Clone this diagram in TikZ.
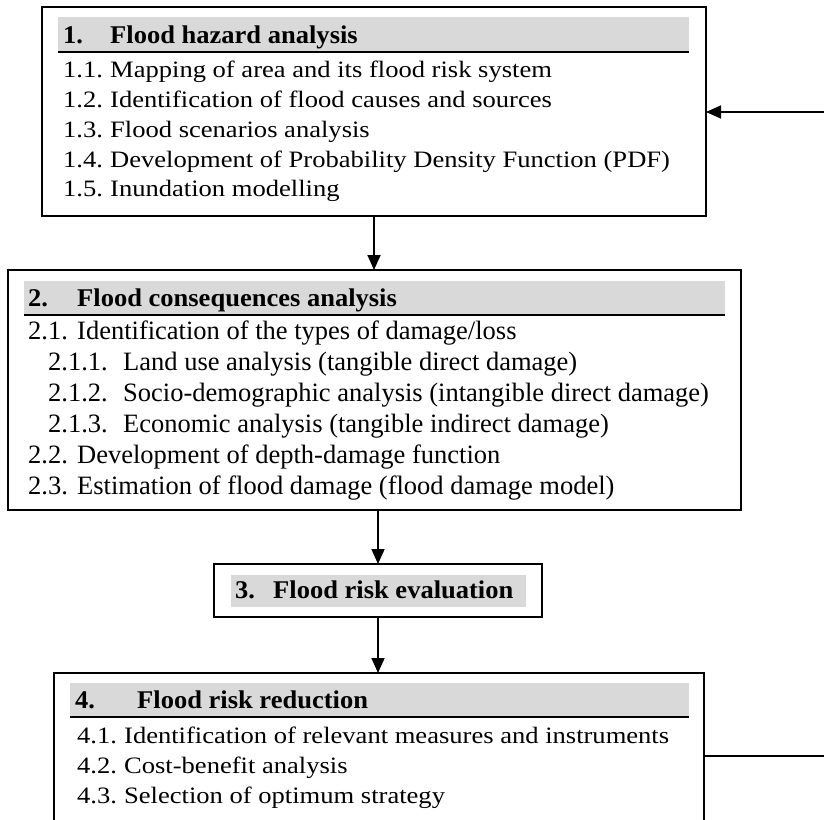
\documentclass[tikz,border=0pt]{standalone}
\usepackage{fontspec}
\setmainfont{Liberation Serif}
\newfontfamily\fA[FakeStretch=1.13]{Liberation Serif}
\newfontfamily\fH[FakeStretch=1.04]{Liberation Serif}
\usetikzlibrary{arrows.meta}
\definecolor{hdgray}{HTML}{D9D9D9}
\tikzset{
  box/.style={draw=black, line width=1.7pt, fill=none, inner sep=0pt, outer sep=0pt, anchor=north west},
  hdbar/.style={fill=hdgray, draw=none, inner sep=0pt, outer sep=0pt, anchor=north west},
  hdrule/.style={line width=1.9pt},
  txtA/.style={anchor=base west, inner sep=0pt, font=\fA\fontsize{23.5}{28}\selectfont},
  txtB/.style={anchor=base west, inner sep=0pt, font=\fontsize{26.5}{30}\selectfont},
  hd/.style={anchor=base west, inner sep=0pt, font=\fH\bfseries\fontsize{25.5}{30}\selectfont},
  arr/.style={line width=1.7pt, -{Triangle[length=15pt,width=13pt]}},
  conn/.style={line width=1.7pt}
}
\begin{document}
\begin{tikzpicture}[x=1pt,y=-1pt]
\clip (0,0) rectangle (824,819);
\fill[white] (0,0) rectangle (824,819);

% Box 1
\node[box, minimum width=664pt, minimum height=209pt] (b1) at (42,7) {};
\node[hdbar, minimum width=631pt, minimum height=35pt] (h1) at (58,17) {};
\draw[hdrule] (h1.south west) -- (h1.south east);
\node[hd] (t1) at (63,43) {\makebox[47pt][l]{1.}Flood hazard analysis};
\node[txtA] (t11) at (63,77) {\makebox[47pt][l]{1.1.}Mapping of area and its flood risk system};
\node[txtA] (t12) at (63,107) {\makebox[47pt][l]{1.2.}Identification of flood causes and sources};
\node[txtA] (t13) at (63,137) {\makebox[47pt][l]{1.3.}Flood scenarios analysis};
\node[txtA] (t14) at (63,167) {\makebox[47pt][l]{1.4.}Development of Probability Density Function (PDF)};
\node[txtA] (t15) at (63,196) {\makebox[47pt][l]{1.5.}Inundation modelling};

% Box 2
\node[box, minimum width=733pt, minimum height=240pt] (b2) at (8,270) {};
\node[hdbar, minimum width=701pt, minimum height=34pt] (h2) at (24,281) {};
\draw[hdrule] (h2.south west) -- (h2.south east);
\node[hd] (t2) at (28,306) {\makebox[49pt][l]{2.}Flood consequences analysis};
\node[txtB] (t21) at (28,339) {\makebox[49pt][l]{2.1.}Identification of the types of damage/loss};
\node[txtB] (t211) at (48,370) {\makebox[75pt][l]{2.1.1.}Land use analysis (tangible direct damage)};
\node[txtB] (t212) at (48,401) {\makebox[75pt][l]{2.1.2.}Socio-demographic analysis (intangible direct damage)};
\node[txtB] (t213) at (48,432) {\makebox[75pt][l]{2.1.3.}Economic analysis (tangible indirect damage)};
\node[txtB] (t22) at (28,463) {\makebox[49pt][l]{2.2.}Development of depth-damage function};
\node[txtB] (t23) at (28,494) {\makebox[49pt][l]{2.3.}Estimation of flood damage (flood damage model)};

% Box 3
\node[box, minimum width=328pt, minimum height=53pt] (b3) at (214,564) {};
\node[hdbar, minimum width=295pt, minimum height=32pt] (h3) at (231,575) {};
\node[hd] (t3) at (235,598) {\makebox[38pt][l]{3.}Flood risk evaluation};

% Box 4 (bottom cut off)
\node[box, minimum width=650pt, minimum height=160pt] (b4) at (54,673) {};
\node[hdbar, minimum width=619pt, minimum height=34pt] (h4) at (70,683) {};
\draw[hdrule] (h4.south west) -- (h4.south east);
\node[hd] (t4) at (75,708) {\makebox[62pt][l]{4.}Flood risk reduction};
\node[txtA] (t41) at (77,743) {\makebox[47pt][l]{4.1.}Identification of relevant measures and instruments};
\node[txtA] (t42) at (77,773) {\makebox[47pt][l]{4.2.}Cost-benefit analysis};
\node[txtA] (t43) at (77,803) {\makebox[47pt][l]{4.3.}Selection of optimum strategy};

% Connectors
\coordinate (r1) at (824,112);
\coordinate (r4) at (824,756);
\draw[arr] (r1) -- (r1 -| b1.east);
\draw[arr] (b1.south) -- (b1.south |- b2.north);
\draw[arr] (b3.north |- b2.south) -- (b3.north);
\draw[arr] (b3.south) -- (b3.south |- b4.north);
\draw[conn] (r4 -| b4.east) -- (r4);
\end{tikzpicture}
\end{document}
